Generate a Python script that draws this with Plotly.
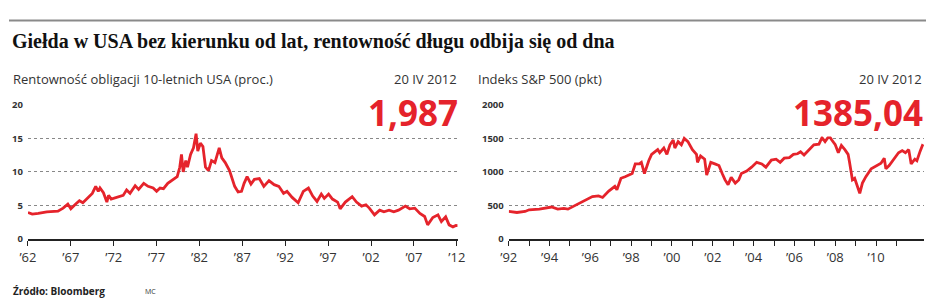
import plotly.graph_objects as go

W, H = 934, 304

# ---- data: 10Y US Treasury yield (%) ----
yield_years = [1962.0, 1962.5, 1963.2, 1964.2, 1965.5, 1966.1, 1966.65, 1967.0, 1967.6, 1968.0,
               1968.4, 1968.95, 1969.5, 1969.9, 1970.2, 1970.4, 1970.8, 1971.2, 1971.4, 1971.7,
               1972.4, 1973.1, 1973.5, 1973.9, 1974.5, 1974.9, 1975.5, 1976.0, 1976.6, 1977.0,
               1977.4, 1977.8, 1978.3, 1978.9, 1979.4, 1979.7, 1979.9, 1980.1, 1980.4, 1980.6,
               1980.96, 1981.3, 1981.6, 1981.8, 1982.1, 1982.4, 1982.7, 1983.05, 1983.4, 1983.8,
               1984.3, 1984.6, 1985.0, 1985.5, 1986.1, 1986.5, 1986.9, 1987.2, 1987.55, 1988.0,
               1988.4, 1988.97, 1989.5, 1990.1, 1990.7, 1991.25, 1991.8, 1992.2, 1992.8, 1993.5,
               1994.1, 1994.7, 1995.2, 1995.7, 1996.2, 1996.55, 1997.05, 1997.5, 1998.1, 1998.4,
               1999.0, 1999.8, 2000.3, 2000.9, 2001.4, 2001.8, 2002.4, 2003.0, 2003.5, 2004.1,
               2004.65, 2005.2, 2006.0, 2006.5, 2007.1, 2007.7, 2008.25, 2008.6, 2009.2, 2009.8,
               2010.2, 2010.7, 2011.1, 2011.55, 2011.9, 2012.1]
yield_values = [3.95, 3.7, 3.8, 4.05, 4.15, 4.6, 5.2, 4.5, 5.25, 5.7,
                5.4, 6.05, 6.8, 7.85, 7.1, 7.6, 6.9, 5.5, 6.5, 5.95,
                6.2, 6.5, 7.3, 6.8, 7.95, 7.4, 8.3, 7.85, 7.6, 7.1,
                7.6, 7.5, 8.3, 8.9, 9.3, 10.7, 12.6, 10.0, 11.7, 10.7,
                12.6, 13.6, 15.7, 13.1, 14.3, 13.8, 10.7, 10.2, 11.7, 11.4,
                13.6, 12.1, 11.4, 10.2, 7.85, 7.0, 7.1, 8.3, 9.3, 8.2,
                8.9, 9.0, 7.85, 8.7, 8.1, 7.85, 6.8, 7.1, 6.2, 5.4,
                7.1, 7.6, 6.4, 5.6, 6.7, 6.05, 6.7, 5.95, 5.5, 4.5,
                5.5, 6.3, 5.5, 4.9, 5.1, 4.6, 3.6, 4.3, 4.05, 4.3,
                4.05, 4.3, 4.9, 4.5, 4.6, 3.8, 3.35, 2.1, 3.2, 3.6,
                2.6, 3.3, 2.1, 1.8, 2.0, 1.99]

# ---- data: S&P 500 index (pts) ----
spx_years = [1992.0, 1992.4, 1992.8, 1993.0, 1993.5, 1994.0, 1994.1, 1994.4, 1994.7, 1994.9,
             1995.25, 1995.7, 1996.1, 1996.4, 1996.6, 1996.9, 1997.2, 1997.3, 1997.5, 1997.7,
             1997.9, 1998.05, 1998.2, 1998.4, 1998.5, 1998.65, 1998.86, 1999.0, 1999.3, 1999.4,
             1999.6, 1999.75, 1999.9, 2000.06, 2000.14, 2000.3, 2000.46, 2000.6, 2000.78, 2001.0,
             2001.2, 2001.25, 2001.4, 2001.6, 2001.7, 2001.9, 2002.1, 2002.3, 2002.46, 2002.6,
             2002.75, 2002.9, 2003.1, 2003.27, 2003.4, 2003.66, 2003.9, 2004.15, 2004.4, 2004.6,
             2004.87, 2005.1, 2005.3, 2005.5, 2005.75, 2005.95, 2006.15, 2006.3, 2006.47, 2006.7,
             2006.95, 2007.2, 2007.35, 2007.5, 2007.7, 2007.83, 2008.0, 2008.15, 2008.3, 2008.47,
             2008.63, 2008.7, 2008.84, 2008.95, 2009.06, 2009.2, 2009.33, 2009.5, 2009.76, 2010.0,
             2010.24, 2010.4, 2010.48, 2010.64, 2010.88, 2011.1, 2011.28, 2011.44, 2011.6, 2011.72,
             2011.9, 2012.0, 2012.16, 2012.27, 2012.33]
spx_values = [410, 395, 410, 435, 445, 465, 476, 445, 455, 445,
              500, 571, 633, 643, 619, 714, 786, 735, 905, 929,
              952, 976, 1119, 1119, 1143, 976, 1167, 1262, 1333, 1286,
              1357, 1262, 1405, 1476, 1357, 1452, 1405, 1500, 1452, 1333,
              1262, 1143, 1238, 1190, 952, 1143, 1120, 1095, 976, 881,
              810, 919, 833, 881, 976, 1014, 1071, 1143, 1119, 1071,
              1176, 1190, 1143, 1205, 1214, 1262, 1271, 1300, 1252, 1333,
              1405, 1414, 1510, 1452, 1538, 1476, 1405, 1286, 1395, 1333,
              1262, 1143, 881, 905, 810, 681, 833, 929, 1048, 1095,
              1129, 1205, 1048, 1095, 1190, 1286, 1319, 1286, 1333, 1119,
              1190, 1167, 1310, 1395, 1385]

yield_ticks = [1962, 1967, 1972, 1977, 1982, 1987, 1992, 1997, 2002, 2007, 2012]
yield_ticktext = ["’62", "’67", "’72", "’77", "’82", "’87", "’92", "’97", "’02", "’07", "’12"]
spx_ticks = [1992, 1994, 1996, 1998, 2000, 2002, 2004, 2006, 2008, 2010]
spx_ticktext = ["’92", "’94", "’96", "’98", "’00", "’02", "’04", "’06", "’08", "’10"]

RED = "#e5232b"


def px(x):
    return x / W


def py(y):
    return 1 - y / H


fig = go.Figure()
fig.add_trace(go.Scatter(x=yield_years, y=yield_values, mode="lines",
                         line=dict(color=RED, width=2.8), xaxis="x", yaxis="y",
                         hoverinfo="skip", showlegend=False))
fig.add_trace(go.Scatter(x=spx_years, y=spx_values, mode="lines",
                         line=dict(color=RED, width=2.8), xaxis="x2", yaxis="y2",
                         hoverinfo="skip", showlegend=False))

ydom = [py(242.3), py(102.3)]
tickfont_y = dict(family="Open Sans", size=9.5, color="#333", weight=700)
tickfont_x = dict(family="Open Sans", size=13, color="#333")
xcommon = dict(showgrid=False, showline=True, linecolor="#222", linewidth=2,
               ticks="outside", ticklen=5, tickwidth=1.2, tickcolor="#222",
               tickfont=tickfont_x, zeroline=False, fixedrange=True)
ycommon = dict(showgrid=True, gridcolor="#888", griddash="dot", gridwidth=1,
               showline=False, ticks="", tickfont=tickfont_y, zeroline=False,
               fixedrange=True, ticklabelstandoff=4)

fig.update_layout(
    width=W, height=H, margin=dict(l=0, r=0, t=0, b=0),
    paper_bgcolor="white", plot_bgcolor="white",
    xaxis=dict(domain=[px(19.3), px(457)], range=[1962, 2012.1],
               tickvals=yield_ticks, ticktext=yield_ticktext, anchor="y", **xcommon),
    yaxis=dict(domain=ydom, range=[0, 20], tickvals=[0, 5, 10, 15, 20], anchor="x", **ycommon),
    xaxis2=dict(domain=[px(509), px(932)], range=[1992, 2012.35],
                tickvals=spx_ticks, ticktext=spx_ticktext, anchor="y2",
                minor=dict(tickvals=list(range(1993, 2013, 2)), ticks="outside", ticklen=5,
                           tickwidth=1.2, tickcolor="#222"),
                **xcommon),
    yaxis2=dict(domain=ydom, range=[0, 2000], tickvals=[0, 500, 1000, 1500, 2000], anchor="x2",
                **ycommon),
)

ann = [
    dict(text="<b>Giełda w USA bez kierunku od lat, rentowność długu odbija się od dna</b>",
         x=px(2), y=py(36), xanchor="left", font=dict(family="Liberation Serif", size=20, color="#111")),
    dict(text="Rentowność obligacji 10-letnich USA (proc.)", x=px(3), y=py(75), xanchor="left",
         font=dict(family="Open Sans", size=13, color="#333")),
    dict(text="20 IV 2012", x=px(457), y=py(75), xanchor="right",
         font=dict(family="Open Sans", size=13, color="#333")),
    dict(text="Indeks S&P 500 (pkt)", x=px(477), y=py(75), xanchor="left",
         font=dict(family="Open Sans", size=13, color="#333")),
    dict(text="20 IV 2012", x=px(931), y=py(75), xanchor="right",
         font=dict(family="Open Sans", size=13, color="#333")),
    dict(text="<b>1,987</b>", x=px(458), y=py(110.5), xanchor="right", bgcolor="white",
         font=dict(family="Open Sans", size=35, color=RED)),
    dict(text="<b>1385,04</b>", x=px(932), y=py(110.5), xanchor="right", bgcolor="white",
         font=dict(family="Open Sans", size=35, color=RED)),
    dict(text="<b>Źródło: Bloomberg</b>", x=px(3), y=py(297), xanchor="left",
         font=dict(family="Open Sans", size=10, color="#222")),
    dict(text="MC", x=px(137), y=py(297), xanchor="left",
         font=dict(family="Open Sans", size=7, color="#333")),
]
for a in ann:
    a.update(xref="paper", yref="paper", yanchor="middle", showarrow=False, borderpad=0)
fig.update_layout(annotations=ann)

fig.add_shape(type="line", xref="paper", yref="paper", x0=0, x1=1, y0=py(14), y1=py(14),
              line=dict(color="#8a8a8a", width=2))

fig.write_html("out.html")
